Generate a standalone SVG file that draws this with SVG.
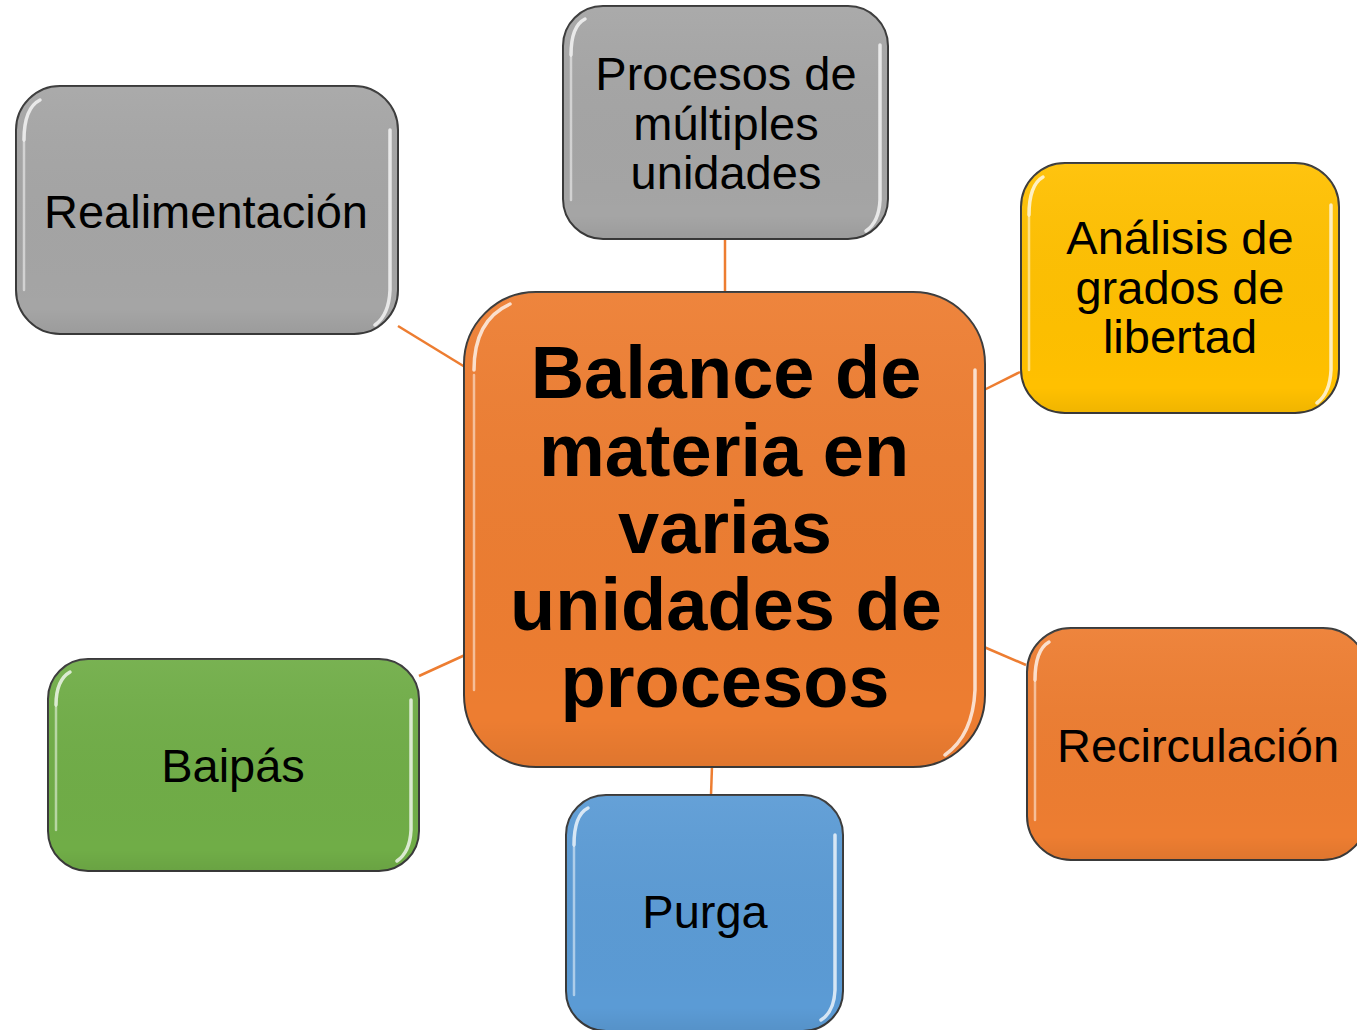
<svg xmlns="http://www.w3.org/2000/svg" width="1357" height="1030" viewBox="0 0 1357 1030">
<defs>
<style>
.box{stroke:#3a3a3a;stroke-width:2}
.hl{fill:none;stroke:#ffffff;stroke-width:3.5;stroke-linecap:round;stroke-opacity:0.75}
.hl2{fill:none;stroke:#ffffff;stroke-width:2.5;stroke-linecap:round;stroke-opacity:0.5}
.t{font-family:"Liberation Sans",Arial,sans-serif;font-size:47px;fill:#000;text-anchor:middle}
.tb{font-family:"Liberation Sans",Arial,sans-serif;font-size:74px;font-weight:bold;fill:#000;text-anchor:middle}
.c{stroke:#ED7D31;stroke-width:2.5;fill:none}
</style>
<linearGradient id="shade" x1="0" y1="0" x2="0" y2="1">
<stop offset="0" stop-color="#fff" stop-opacity="0.06"/>
<stop offset="0.9" stop-color="#000" stop-opacity="0"/>
<stop offset="1" stop-color="#000" stop-opacity="0.06"/>
</linearGradient>
</defs>
<rect width="1357" height="1030" fill="#fff"/>
<g id="connectors">
<line class="c" x1="398" y1="326" x2="465" y2="367"/>
<line class="c" x1="725" y1="239" x2="725" y2="292"/>
<line class="c" x1="1020" y1="372" x2="984" y2="390"/>
<line class="c" x1="1026" y1="665" x2="984" y2="647"/>
<line class="c" x1="419" y1="676" x2="465" y2="655"/>
<line class="c" x1="712" y1="766" x2="711" y2="795"/>
</g>
<g id="central">
<rect class="box" x="464" y="292" width="521" height="475" rx="72" fill="#ED7D31"/>
<rect x="464" y="292" width="521" height="475" rx="72" fill="url(#shade)"/>
<path class="hl" d="M474 370 Q474 320 510 304"/>
<path class="hl2" d="M474 375 L474 690"/>
<path class="hl" d="M975 370 L975 690 Q973 735 945 755"/>
<text class="tb" x="726" y="398">Balance de</text>
<text class="tb" x="724" y="476">materia en</text>
<text class="tb" x="725" y="553">varias</text>
<text class="tb" x="726" y="630">unidades de</text>
<text class="tb" x="725" y="707">procesos</text>
</g>
<g id="realimentacion">
<rect class="box" x="16" y="86" width="382" height="248" rx="44" fill="#A5A5A5"/>
<rect x="16" y="86" width="382" height="248" rx="44" fill="url(#shade)"/>
<path class="hl" d="M24 140 Q24 108 40 100"/>
<path class="hl2" d="M24 142 L24 290"/>
<path class="hl" d="M390 130 L390 290 Q389 315 375 325"/>
<text class="t" x="206" y="228">Realimentación</text>
</g>
<g id="procesos">
<rect class="box" x="563" y="6" width="325" height="233" rx="40" fill="#A5A5A5"/>
<rect x="563" y="6" width="325" height="233" rx="40" fill="url(#shade)"/>
<path class="hl" d="M571 55 Q571 26 585 19"/>
<path class="hl2" d="M571 57 L571 200"/>
<path class="hl" d="M880 45 L880 200 Q879 222 866 231"/>
<text class="t" x="726" y="90">Procesos de</text>
<text class="t" x="726" y="140">múltiples</text>
<text class="t" x="726" y="189">unidades</text>
</g>
<g id="analisis">
<rect class="box" x="1021" y="163" width="318" height="250" rx="44" fill="#FFC000"/>
<rect x="1021" y="163" width="318" height="250" rx="44" fill="url(#shade)"/>
<path class="hl" d="M1029 215 Q1029 185 1043 177"/>
<path class="hl2" d="M1029 217 L1029 370"/>
<path class="hl" d="M1331 205 L1331 370 Q1330 393 1317 403"/>
<text class="t" x="1180" y="254">Análisis de</text>
<text class="t" x="1180" y="304">grados de</text>
<text class="t" x="1180" y="353">libertad</text>
</g>
<g id="recirculacion">
<rect class="box" x="1027" y="628" width="340" height="232" rx="44" fill="#ED7D31"/>
<rect x="1027" y="628" width="340" height="232" rx="44" fill="url(#shade)"/>
<path class="hl" d="M1035 680 Q1035 650 1049 642"/>
<path class="hl2" d="M1035 682 L1035 820"/>
<text class="t" x="1198" y="762">Recirculación</text>
</g>
<g id="baipas">
<rect class="box" x="48" y="659" width="371" height="212" rx="40" fill="#70AD47"/>
<rect x="48" y="659" width="371" height="212" rx="40" fill="url(#shade)"/>
<path class="hl" d="M56 705 Q56 680 70 672"/>
<path class="hl2" d="M56 707 L56 830"/>
<path class="hl" d="M411 700 L411 830 Q410 852 397 861"/>
<text class="t" x="233" y="782">Baipás</text>
</g>
<g id="purga">
<rect class="box" x="566" y="795" width="277" height="236" rx="40" fill="#5B9BD5"/>
<rect x="566" y="795" width="277" height="236" rx="40" fill="url(#shade)"/>
<path class="hl" d="M574 845 Q574 815 588 808"/>
<path class="hl2" d="M574 847 L574 995"/>
<path class="hl" d="M835 835 L835 990 Q834 1012 821 1020"/>
<text class="t" x="705" y="928">Purga</text>
</g>
</svg>
